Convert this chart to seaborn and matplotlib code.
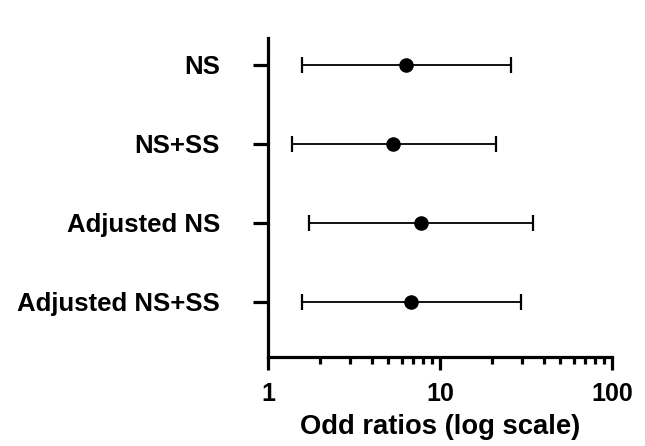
import matplotlib
matplotlib.use("Agg")
import matplotlib.pyplot as plt
import numpy as np
import pandas as pd
import seaborn as sns
from matplotlib.ticker import LogLocator, NullFormatter, FixedLocator, FixedFormatter

# Values
models = ["NS", "NS+SS", "Adjusted NS", "Adjusted NS+SS"]
odds_ratio = [6.3, 5.35, 7.75, 6.8]
ci_low = [1.57, 1.37, 1.74, 1.58]
ci_high = [25.8, 21.2, 34.9, 29.6]

df = pd.DataFrame({"model": models, "or": odds_ratio, "lo": ci_low, "hi": ci_high})
df["pos"] = np.arange(len(df))

sns.set_style("ticks")
plt.rcParams["font.family"] = ["Liberation Sans", "DejaVu Sans"]
plt.rcParams["text.color"] = "black"
plt.rcParams["xtick.color"] = "black"
plt.rcParams["ytick.color"] = "black"
plt.rcParams["axes.edgecolor"] = "black"

fig = plt.figure(figsize=(6.45, 4.46), dpi=100)
ax = fig.add_axes([0.4155, 0.1996, 0.5335, 0.7152])

# confidence intervals
ax.errorbar(
    df["or"], df["pos"],
    xerr=[df["or"] - df["lo"], df["hi"] - df["or"]],
    fmt="none", ecolor="black", elinewidth=1.3, capsize=5.5, capthick=1.6,
)
sns.scatterplot(data=df, x="or", y="pos", color="black", s=110,
                edgecolor="black", linewidth=0, ax=ax, zorder=3)

ax.set_xscale("log")
ax.set_xlim(1, 100)
ax.set_ylim(3.7, -0.34)
ax.yaxis.set_major_locator(FixedLocator(df["pos"].tolist()))
ax.yaxis.set_major_formatter(FixedFormatter(models))
ax.xaxis.set_minor_locator(LogLocator(base=10, subs=np.arange(2, 10)))
ax.xaxis.set_minor_formatter(NullFormatter())
ax.set_xticks([1, 10, 100])
ax.set_xticklabels(["1", "10", "100"])

for lbl in ax.get_yticklabels():
    lbl.set_fontweight("bold")
    lbl.set_fontsize(18.5)
    lbl.set_color("black")
for lbl in ax.get_xticklabels():
    lbl.set_fontweight("bold")
    lbl.set_fontsize(18)
    lbl.set_color("black")

ax.set_xlabel("Odd ratios (log scale)", fontsize=19.7, fontweight="bold",
              labelpad=6, color="black")
ax.set_ylabel("")

sns.despine(ax=ax)
for side in ["left", "bottom"]:
    ax.spines[side].set_linewidth(2.3)
    ax.spines[side].set_color("black")
ax.tick_params(axis="y", which="major", length=11, width=2.3, pad=23.5)
ax.tick_params(axis="x", which="major", length=9, width=2.3, pad=9)
ax.tick_params(axis="x", which="minor", length=5, width=2.3)

fig.savefig("out.png", dpi=100)
